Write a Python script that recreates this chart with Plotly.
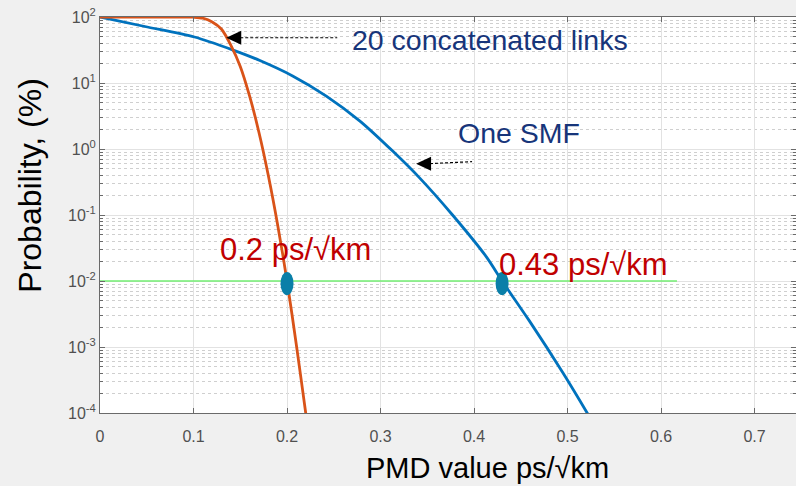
import plotly.graph_objects as go

# PMD value (ps/√km) against tail probability (%) for one SMF
smf_pmd = [0, 0.048, 0.101, 0.141, 0.171, 0.206, 0.242, 0.278, 0.313, 0.342, 0.377, 0.413, 0.43,
           0.459, 0.495, 0.521, 0.534]
smf_prob = [100, 71.8, 49.8, 32.1, 21.9, 12.8, 6.34, 2.65, 0.929, 0.362, 0.100, 0.0234, 0.0100,
            0.00251, 4.07e-4, 1.0e-4, 4.8e-5]

# PMD value against tail probability (%) for 20 concatenated links
link_pmd = [0, 0.05, 0.09, 0.10, 0.11, 0.12, 0.13, 0.14, 0.15, 0.16, 0.17, 0.18, 0.19,
            0.20, 0.21, 0.22, 0.225]
link_prob = [100, 100, 99.95, 99.3, 95.9, 84.1, 65.3, 37.2, 17.8, 6.31, 1.78, 0.398, 0.0708,
             0.0100, 1.07e-3, 1.0e-4, 3.0e-5]

# 0.01 % threshold line and the PMD values where each curve crosses it
threshold_prob = 0.01
threshold_span = [0, 0.617]
marked_pmd = [0.2, 0.43]
marked_prob = [0.01, 0.01]
marked_labels = ["0.2 ps/√km", "0.43 ps/√km"]

# arrow tips of the two curve labels
arrow_tip_pmd = [0.135, 0.338]
arrow_tip_prob = [48.5, 0.60]

x_ticks = [0, 0.1, 0.2, 0.3, 0.4, 0.5, 0.6, 0.7]
x_tick_text = ["0", "0.1", "0.2", "0.3", "0.4", "0.5", "0.6", "0.7"]
y_exponents = [-4, -3, -2, -1, 0, 1, 2]

FONT = "Arial, 'Liberation Sans', sans-serif"
BLUE = "#0072BD"
ORANGE = "#D95319"
NAVY = "#17357a"
RED = "#c00000"
AXIS = "#6a6a6a"

X_RANGE = [0, 0.7443]
PLOT_W, PLOT_H = 696, 396
px_per_x = PLOT_W / (X_RANGE[1] - X_RANGE[0])
px_per_decade = PLOT_H / 6.0

y_ticks = [10.0 ** e for e in y_exponents]
y_tick_text = ["10<sup>%d</sup>" % e for e in y_exponents]
y_minor = [m * 10.0 ** e for e in y_exponents[:-1] for m in range(2, 10)]

fig = go.Figure()
fig.add_trace(go.Scatter(x=smf_pmd, y=smf_prob, mode="lines",
                         line=dict(color=BLUE, width=2.8, shape="spline", smoothing=0.8)))
fig.add_trace(go.Scatter(x=link_pmd, y=link_prob, mode="lines",
                         line=dict(color=ORANGE, width=2.8, shape="spline", smoothing=0.8)))
fig.add_trace(go.Scatter(x=threshold_span, y=[threshold_prob] * len(threshold_span), mode="lines",
                         line=dict(color="#72ee72", width=1.4)))

shapes = []
# tall elliptical markers (about 13 x 23 px) at the threshold crossings
half_w = 6.5 / px_per_x
for px, py in zip(marked_pmd, marked_prob):
    shapes.append(dict(type="circle", xref="x", yref="y",
                       x0=px - half_w, x1=px + half_w,
                       y0=py * 10 ** (-14 / px_per_decade), y1=py * 10 ** (9 / px_per_decade),
                       fillcolor="#0a7fa8", line=dict(width=0), layer="above"))

# dashed arrows pointing at each curve
arrow_lengths = [97, 42]
arrow_rise = [0, 2]
for ax_, ay_, ln, rise in zip(arrow_tip_pmd, arrow_tip_prob, arrow_lengths, arrow_rise):
    shapes.append(dict(type="path", xref="x", yref="y", xsizemode="pixel", ysizemode="pixel",
                       xanchor=ax_, yanchor=ay_, path="M0,0 L15,7 L15,-7 Z",
                       fillcolor="black", line=dict(width=0), layer="above"))
    shapes.append(dict(type="line", xref="x", yref="y", xsizemode="pixel", ysizemode="pixel",
                       xanchor=ax_, yanchor=ay_, x0=14, x1=14 + ln, y0=0, y1=rise,
                       line=dict(color="black", width=1.2, dash="3px,2px"), layer="above"))

annotations = [
    dict(text="20 concatenated links", xref="paper", yref="paper", x=0.359, y=0.943,
         xanchor="left", yanchor="middle", showarrow=False, font=dict(family=FONT, size=28.5, color=NAVY)),
    dict(text="One SMF", xref="paper", yref="paper", x=0.512, y=0.706,
         xanchor="left", yanchor="middle", showarrow=False, font=dict(family=FONT, size=28.5, color=NAVY)),
    dict(text="Probability, (%)", xref="paper", yref="paper", x=-0.1, y=0.575, textangle=-90,
         xanchor="center", yanchor="middle", showarrow=False, font=dict(family=FONT, size=32, color="black")),
    dict(text="PMD value ps/√km", xref="paper", yref="paper", x=0.557, y=-0.14,
         xanchor="center", yanchor="middle", showarrow=False, font=dict(family=FONT, size=29, color="black")),
]
label_pos = [(0.17, 0.412), (0.571, 0.374)]
for txt, (lx, ly) in zip(marked_labels, label_pos):
    annotations.append(dict(text=txt, xref="paper", yref="paper", x=lx, y=ly, xanchor="left",
                            yanchor="middle", showarrow=False, font=dict(family=FONT, size=31, color=RED)))

fig.update_layout(
    width=796, height=486,
    margin=dict(l=100, r=0, t=17, b=73),
    paper_bgcolor="#f0f0f0", plot_bgcolor="white",
    showlegend=False,
    font=dict(family=FONT, color="#505050"),
    shapes=shapes, annotations=annotations,
    xaxis=dict(range=X_RANGE, tickmode="array", tickvals=x_ticks, ticktext=x_tick_text,
               tickfont=dict(size=16, color="#505050"), ticks="inside", ticklen=5, tickcolor=AXIS,
               ticklabelstandoff=9,
               showline=True, linecolor=AXIS, linewidth=1, mirror="ticks",
               showgrid=True, gridcolor="#e2e2e2", gridwidth=1, zeroline=False),
    yaxis=dict(type="log", range=[-4, 2], tickmode="array", tickvals=y_ticks, ticktext=y_tick_text,
               tickfont=dict(size=16, color="#505050"), ticks="inside", ticklen=5, tickcolor=AXIS,
               showline=True, linecolor=AXIS, linewidth=1, mirror="ticks",
               showgrid=True, gridcolor="#e2e2e2", gridwidth=1, zeroline=False,
               minor=dict(tickmode="array", tickvals=y_minor, ticks="inside", ticklen=3, tickcolor=AXIS,
                          showgrid=True, gridcolor="#cfcfcf", griddash="dot", gridwidth=1)),
)

fig.write_html("out.html")
